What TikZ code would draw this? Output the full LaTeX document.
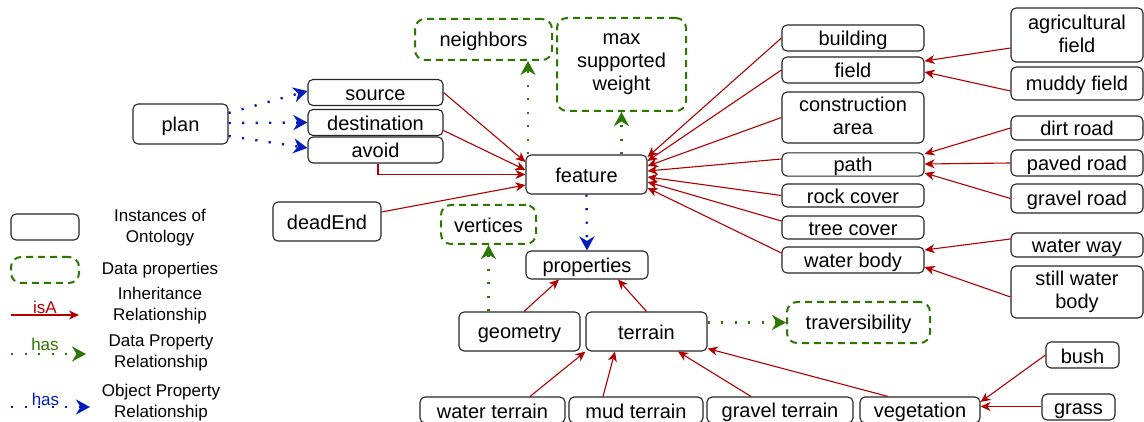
\documentclass[tikz,border=0pt]{standalone}
\usepackage{fontspec}
\setmainfont{Liberation Sans}
\usetikzlibrary{arrows.meta,calc}
\definecolor{isared}{HTML}{B20000}
\definecolor{hasgreen}{HTML}{2D7600}
\definecolor{hasblue}{HTML}{001DBC}
\newcommand\bxstrut{\rule[-3pt]{0pt}{22pt}}
\newcommand\lgstrut{\rule[-3pt]{0pt}{18.7pt}}
\tikzset{
  sz/.style 2 args={minimum width=#1pt, minimum height=#2pt},
  inst/.style={draw=black!85, line width=1.1pt, rounded corners=5pt, inner sep=0pt, align=center,
    font=\fontsize{20}{23}\selectfont, execute at begin node=\bxstrut, execute at end node=\bxstrut},
  dprop/.style={draw=hasgreen, line width=2pt, dash pattern=on 7pt off 5pt, rounded corners=10pt,
    inner sep=0pt, align=center, font=\fontsize{20}{23}\selectfont,
    execute at begin node=\bxstrut, execute at end node=\bxstrut},
  isa/.style={draw=isared, line width=1.1pt, -{Stealth[length=10pt,width=9pt,inset=3pt]}},
  hasd/.style={draw=hasgreen, line width=2.4pt, dash pattern=on 2.2pt off 11.3pt,
    -{Stealth[length=14pt,width=15pt,inset=4.5pt]}},
  haso/.style={draw=hasblue, line width=2.4pt, dash pattern=on 2.2pt off 11.3pt,
    -{Stealth[length=14pt,width=15pt,inset=4.5pt]}},
  leg/.style={inner sep=0pt, align=center, font=\fontsize{17}{21}\selectfont,
    execute at begin node=\lgstrut, execute at end node=\lgstrut},
  lbl/.style={inner sep=0pt, anchor=base, font=\fontsize{17}{21}\selectfont}
}
\begin{document}
\begin{tikzpicture}[x=1pt,y=-1pt]
\fill[white] (0,0) rectangle (1144,422);
\useasboundingbox (0,0) rectangle (1144,422);

% left part
\node[inst,sz={95}{40}] (plan) at (180.5,124) {plan};
\node[inst,sz={135}{26}] (source) at (375.5,92.5) {source};
\node[inst,sz={135}{26}] (destination) at (375.5,122.5) {destination};
\node[inst,sz={135}{26}] (avoid) at (375.5,150) {avoid};
\node[inst,sz={108}{39}] (deadEnd) at (327,221.5) {deadEnd};

% centre
\node[inst,sz={121}{39}] (feature) at (586.5,174.5) {feature};
\node[dprop,sz={137}{41}] (neighbors) at (483.5,39.5) {neighbors};
\node[dprop,sz={129}{93}] (maxsw) at (621.5,64.5) {max\\supported\\weight};
\node[dprop,sz={95}{39}] (vertices) at (488.5,224.5) {vertices};
\node[inst,sz={122}{28}] (properties) at (587,265) {properties};
\node[inst,sz={121}{39}] (geometry) at (519.5,331.5) {geometry};
\node[inst,sz={121}{39}] (terrain) at (646.5,331.5) {terrain};
\node[dprop,sz={143}{41}] (traversibility) at (858.5,322.5) {traversibility};
\node[inst,sz={145}{26}] (waterterrain) at (492.5,410) {water terrain};
\node[inst,sz={134}{26}] (mudterrain) at (636,410) {mud terrain};
\node[inst,sz={146}{26}] (gravelterrain) at (780,410) {gravel terrain};
\node[inst,sz={120}{26}] (vegetation) at (920,410) {vegetation};
\node[inst,sz={73}{26}] (bush) at (1082.5,355) {bush};
\node[inst,sz={73}{26}] (grass) at (1078.5,407) {grass};

% right column
\node[inst,sz={142}{26}] (building) at (853,38) {building};
\node[inst,sz={142}{26}] (field) at (853,70) {field};
\node[inst,sz={142}{51}] (construction) at (853,117.5) {construction\\area};
\node[inst,sz={142}{23}] (path) at (853,164.5) {path};
\node[inst,sz={142}{23}] (rockcover) at (853,195.5) {rock cover};
\node[inst,sz={142}{23}] (treecover) at (853,227.5) {tree cover};
\node[inst,sz={142}{26}] (waterbody) at (853,260) {water body};

% far right
\node[inst,sz={132}{54}] (agri) at (1077,35) {agricultural\\field};
\node[inst,sz={132}{33}] (muddy) at (1077,83.5) {muddy field};
\node[inst,sz={132}{24}] (dirt) at (1077,128) {dirt road};
\node[inst,sz={132}{26}] (paved) at (1077,163) {paved road};
\node[inst,sz={132}{29}] (gravelroad) at (1077,198.5) {gravel road};
\node[inst,sz={132}{24}] (waterway) at (1077,245) {water way};
\node[inst,sz={132}{52}] (stillwater) at (1077,292) {still water\\body};

% isA connectors to feature
\draw[isa] (source.east) -- ([yshift=12.5pt]feature.west);
\draw[isa] ([yshift=-8pt]destination.east) -- ([yshift=4.5pt]feature.west);
\draw[isa] ([xshift=2.5pt]avoid.south) |- (feature.west);
\draw[isa] ([yshift=9.5pt]deadEnd.east) -- ([yshift=-10.5pt]feature.west);
\draw[isa] (building.west) -- ([yshift=17.5pt]feature.east);
\draw[isa] (field.west) -- ([yshift=13.5pt]feature.east);
\draw[isa] (construction.west) -- ([yshift=8.5pt]feature.east);
\draw[isa] ([yshift=5.5pt]path.west) -- ([yshift=3.5pt]feature.east);
\draw[isa] (rockcover.west) -- ([yshift=-2.5pt]feature.east);
\draw[isa] ([yshift=6.5pt]treecover.west) -- ([yshift=-7.5pt]feature.east);
\draw[isa] ([yshift=7pt]waterbody.west) -- ([yshift=-13.5pt]feature.east);

% isA far right
\draw[isa] ([yshift=-13pt]agri.west) -- ([yshift=9pt]field.east);
\draw[isa] ([yshift=-7.5pt]muddy.west) -- ([yshift=-2pt]field.east);
\draw[isa] (dirt.west) -- ([yshift=10.5pt]path.east);
\draw[isa] (paved.west) -- ([yshift=0.5pt]path.east);
\draw[isa] (gravelroad.west) -- ([yshift=-8.5pt]path.east);
\draw[isa] ([yshift=6pt]waterway.west) -- ([yshift=10pt]waterbody.east);
\draw[isa] ([yshift=-5pt]stillwater.west) -- ([yshift=-7pt]waterbody.east);

% isA lower part
\draw[isa] ([xshift=4.5pt]geometry.north) -- ([xshift=-28pt]properties.south);
\draw[isa] (terrain.north) -- ([xshift=31pt]properties.south);
\draw[isa] ([xshift=37.5pt]waterterrain.north) -- (terrain.south west);
\draw[isa] ([xshift=-33pt]mudterrain.north) -- ([xshift=-31.5pt]terrain.south);
\draw[isa] ([xshift=-29pt]gravelterrain.north) -- ([xshift=31.5pt]terrain.south);
\draw[isa] ([xshift=-32pt]vegetation.north) -- ([yshift=3pt]terrain.south east);
\draw[isa] (bush.west) -- ([yshift=8pt]vegetation.east);
\draw[isa] ([yshift=0.5pt]grass.west) -- ([yshift=3.5pt]vegetation.east);

% data property (green dotted)
\draw[hasd] ([xshift=-58.5pt]feature.north) -- ([xshift=-58.5pt]feature.north |- neighbors.south);
\draw[hasd] (maxsw.south |- feature.north) -- (maxsw.south);
\draw[hasd] (vertices.south |- geometry.north) -- (vertices.south);
\draw[hasd] (terrain.east |- traversibility.west) -- (traversibility.west);

% object property (blue dotted)
\draw[haso] ([yshift=11pt]plan.east) -- ([yshift=1.5pt]source.west);
\draw[haso] ([yshift=1pt]plan.east) -- (destination.west);
\draw[haso] ([yshift=-12pt]plan.east) -- ([yshift=2pt]avoid.west);
\draw[haso] (feature.south) -- (properties.north);

% legend
\node[inst,sz={68}{26}] (legbox1) at (45,227) {};
\node[dprop,sz={68}{26}] (legbox2) at (45,270) {};
\node[leg] (legt1) at (160,228) {Instances of\\Ontology};
\node[leg] (legt2) at (160,268.5) {Data properties};
\node[leg] (legt3) at (160,305.5) {Inheritance\\Relationship};
\node[leg] (legt4) at (161,353) {Data Property\\Relationship};
\node[leg] (legt5) at (161,403) {Object Property\\Relationship};
\coordinate (l1a) at (11,315);
\coordinate (l1b) at (79,315);
\coordinate (l2a) at (11,354);
\coordinate (l2b) at (86,354);
\coordinate (l3a) at (11,407);
\coordinate (l3b) at (90,407);
\draw[isa] (l1a) -- (l1b);
\draw[hasd] (l2a) -- (l2b);
\draw[haso] (l3a) -- (l3b);
\node[lbl, text=isared] (lisa) at (45,313) {isA};
\node[lbl, text=hasgreen] (lhas1) at (45,350.5) {has};
\node[lbl, text=hasblue] (lhas2) at (45.5,405) {has};
\end{tikzpicture}
\end{document}
